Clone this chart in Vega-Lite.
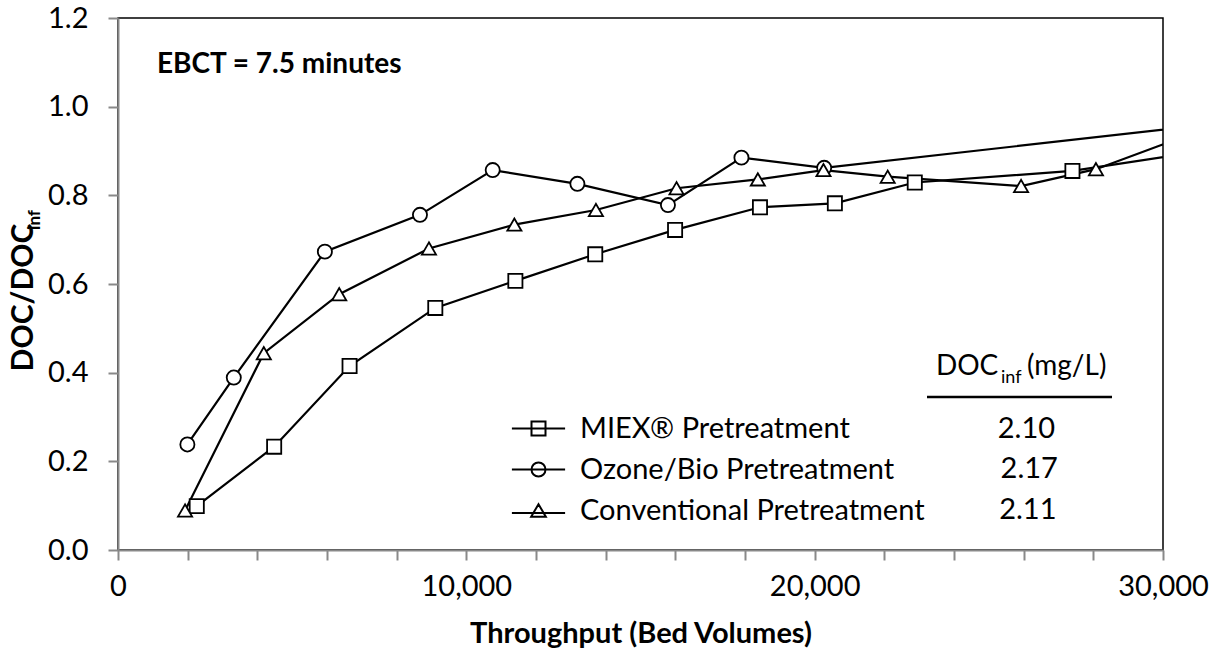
{
  "$schema": "https://vega.github.io/schema/vega-lite/v6.json",
  "autosize": {"type": "none"},
  "padding": {"left": 118, "top": 18, "right": 54, "bottom": 107},
  "width": 1045,
  "height": 532,
  "background": "white",
  "datasets": {
    "curves": [
      {"series": "MIEX® Pretreatment", "bv": 2261, "ratio": 0.099},
      {"series": "MIEX® Pretreatment", "bv": 4483, "ratio": 0.233},
      {"series": "MIEX® Pretreatment", "bv": 6648, "ratio": 0.415},
      {"series": "MIEX® Pretreatment", "bv": 9109, "ratio": 0.546},
      {"series": "MIEX® Pretreatment", "bv": 11408, "ratio": 0.607},
      {"series": "MIEX® Pretreatment", "bv": 13700, "ratio": 0.667},
      {"series": "MIEX® Pretreatment", "bv": 15993, "ratio": 0.722},
      {"series": "MIEX® Pretreatment", "bv": 18430, "ratio": 0.773},
      {"series": "MIEX® Pretreatment", "bv": 20580, "ratio": 0.782},
      {"series": "MIEX® Pretreatment", "bv": 22874, "ratio": 0.829},
      {"series": "MIEX® Pretreatment", "bv": 27400, "ratio": 0.855},
      {"series": "MIEX® Pretreatment", "bv": 31000, "ratio": 0.898},
      {"series": "Ozone/Bio Pretreatment", "bv": 1992, "ratio": 0.238},
      {"series": "Ozone/Bio Pretreatment", "bv": 3324, "ratio": 0.389},
      {"series": "Ozone/Bio Pretreatment", "bv": 5939, "ratio": 0.673},
      {"series": "Ozone/Bio Pretreatment", "bv": 8669, "ratio": 0.756},
      {"series": "Ozone/Bio Pretreatment", "bv": 10757, "ratio": 0.857},
      {"series": "Ozone/Bio Pretreatment", "bv": 13188, "ratio": 0.826},
      {"series": "Ozone/Bio Pretreatment", "bv": 15788, "ratio": 0.778},
      {"series": "Ozone/Bio Pretreatment", "bv": 17898, "ratio": 0.885},
      {"series": "Ozone/Bio Pretreatment", "bv": 20273, "ratio": 0.862},
      {"series": "Ozone/Bio Pretreatment", "bv": 31000, "ratio": 0.957},
      {"series": "Conventional Pretreatment", "bv": 1925, "ratio": 0.089},
      {"series": "Conventional Pretreatment", "bv": 4186, "ratio": 0.444},
      {"series": "Conventional Pretreatment", "bv": 6351, "ratio": 0.577},
      {"series": "Conventional Pretreatment", "bv": 8927, "ratio": 0.680},
      {"series": "Conventional Pretreatment", "bv": 11379, "ratio": 0.734},
      {"series": "Conventional Pretreatment", "bv": 13720, "ratio": 0.767},
      {"series": "Conventional Pretreatment", "bv": 16034, "ratio": 0.816},
      {"series": "Conventional Pretreatment", "bv": 18369, "ratio": 0.836},
      {"series": "Conventional Pretreatment", "bv": 20253, "ratio": 0.857},
      {"series": "Conventional Pretreatment", "bv": 22096, "ratio": 0.842},
      {"series": "Conventional Pretreatment", "bv": 25925, "ratio": 0.821},
      {"series": "Conventional Pretreatment", "bv": 28075, "ratio": 0.859},
      {"series": "Conventional Pretreatment", "bv": 31000, "ratio": 0.944}
    ],
    "one": [{}]
  },
  "resolve": {"scale": {"shape": "independent"}, "legend": {"shape": "independent"}},
  "layer": [
    {
      "data": {"name": "curves"},
      "mark": {"type": "line", "clip": true, "color": "black", "strokeWidth": 2.2},
      "encoding": {
        "x": {"field": "bv", "type": "quantitative", "scale": {"domain": [0, 30000], "nice": false, "zero": false},
          "axis": {"title": "Throughput (Bed Volumes)", "values": [0, 1000, 2000, 3000, 4000, 5000, 6000, 7000, 8000, 9000, 10000, 11000, 12000, 13000, 14000, 15000, 16000, 17000, 18000, 19000, 20000, 21000, 22000, 23000, 24000, 25000, 26000, 27000, 28000, 29000, 30000], "labelExpr": "datum.value % 5000 === 0 ? format(datum.value, ',') : ''", "labelFlush": false, "labelOverlap": false, "labelPadding": 12, "titlePadding": 18, "encode": {"ticks": {"update": {"y": {"signal": "datum.value % 5000 === 0 ? -10 : -8"}, "y2": {"signal": "datum.value % 5000 === 0 ? 10 : 0"}}}}}},
        "y": {"field": "ratio", "type": "quantitative", "scale": {"domain": [0, 1.2], "nice": false, "zero": false},
          "axis": {"title": "DOC/DOC", "values": [0, 0.1, 0.2, 0.3, 0.4, 0.5, 0.6, 0.7, 0.8, 0.9, 1.0, 1.1, 1.2], "labelExpr": "round(datum.value * 10) % 2 === 0 ? format(datum.value, '.1f') : ''", "labelFlush": false, "labelOverlap": false, "labelPadding": 20, "titleAngle": 270, "titleAlign": "center", "titleBaseline": "middle", "titleFontSize": 30, "titleX": -95, "titleY": 279, "encode": {"ticks": {"update": {"x": {"signal": "round(datum.value * 10) % 2 === 0 ? 10 : 8"}, "x2": {"signal": "round(datum.value * 10) % 2 === 0 ? -10 : 0"}}}}}},
        "detail": {"field": "series"}
      }
    },
    {
      "data": {"name": "curves"},
      "mark": {"type": "point", "clip": true, "filled": true, "fill": "white", "stroke": "black", "strokeWidth": 1.8, "opacity": 1, "size": 200},
      "encoding": {
        "x": {"field": "bv", "type": "quantitative", "scale": {"domain": [0, 30000], "nice": false, "zero": false},
          "axis": {"title": "Throughput (Bed Volumes)", "values": [0, 1000, 2000, 3000, 4000, 5000, 6000, 7000, 8000, 9000, 10000, 11000, 12000, 13000, 14000, 15000, 16000, 17000, 18000, 19000, 20000, 21000, 22000, 23000, 24000, 25000, 26000, 27000, 28000, 29000, 30000], "labelExpr": "datum.value % 5000 === 0 ? format(datum.value, ',') : ''", "labelFlush": false, "labelOverlap": false, "labelPadding": 12, "titlePadding": 18, "encode": {"ticks": {"update": {"y": {"signal": "datum.value % 5000 === 0 ? -10 : -8"}, "y2": {"signal": "datum.value % 5000 === 0 ? 10 : 0"}}}}}},
        "y": {"field": "ratio", "type": "quantitative", "scale": {"domain": [0, 1.2], "nice": false, "zero": false},
          "axis": {"title": "DOC/DOC", "values": [0, 0.1, 0.2, 0.3, 0.4, 0.5, 0.6, 0.7, 0.8, 0.9, 1.0, 1.1, 1.2], "labelExpr": "round(datum.value * 10) % 2 === 0 ? format(datum.value, '.1f') : ''", "labelFlush": false, "labelOverlap": false, "labelPadding": 20, "titleAngle": 270, "titleAlign": "center", "titleBaseline": "middle", "titleFontSize": 30, "titleX": -95, "titleY": 279, "encode": {"ticks": {"update": {"x": {"signal": "round(datum.value * 10) % 2 === 0 ? 10 : 8"}, "x2": {"signal": "round(datum.value * 10) % 2 === 0 ? -10 : 0"}}}}}},
        "shape": {
          "field": "series",
          "type": "nominal",
          "scale": {"domain": ["MIEX® Pretreatment", "Ozone/Bio Pretreatment", "Conventional Pretreatment"], "range": ["square", "circle", "triangle-up"]},
          "legend": null
        }
      }
    },
    {
      "data": {"name": "curves"},
      "transform": [{"filter": "false"}],
      "mark": {"type": "point", "filled": false, "color": "black", "strokeWidth": 2, "opacity": 1, "size": 196},
      "encoding": {
        "x": {"field": "bv", "type": "quantitative", "scale": {"domain": [0, 30000], "nice": false, "zero": false},
          "axis": {"title": "Throughput (Bed Volumes)", "values": [0, 1000, 2000, 3000, 4000, 5000, 6000, 7000, 8000, 9000, 10000, 11000, 12000, 13000, 14000, 15000, 16000, 17000, 18000, 19000, 20000, 21000, 22000, 23000, 24000, 25000, 26000, 27000, 28000, 29000, 30000], "labelExpr": "datum.value % 5000 === 0 ? format(datum.value, ',') : ''", "labelFlush": false, "labelOverlap": false, "labelPadding": 12, "titlePadding": 18, "encode": {"ticks": {"update": {"y": {"signal": "datum.value % 5000 === 0 ? -10 : -8"}, "y2": {"signal": "datum.value % 5000 === 0 ? 10 : 0"}}}}}},
        "y": {"field": "ratio", "type": "quantitative", "scale": {"domain": [0, 1.2], "nice": false, "zero": false},
          "axis": {"title": "DOC/DOC", "values": [0, 0.1, 0.2, 0.3, 0.4, 0.5, 0.6, 0.7, 0.8, 0.9, 1.0, 1.1, 1.2], "labelExpr": "round(datum.value * 10) % 2 === 0 ? format(datum.value, '.1f') : ''", "labelFlush": false, "labelOverlap": false, "labelPadding": 20, "titleAngle": 270, "titleAlign": "center", "titleBaseline": "middle", "titleFontSize": 30, "titleX": -95, "titleY": 279, "encode": {"ticks": {"update": {"x": {"signal": "round(datum.value * 10) % 2 === 0 ? 10 : 8"}, "x2": {"signal": "round(datum.value * 10) % 2 === 0 ? -10 : 0"}}}}}},
        "shape": {
          "field": "series",
          "type": "nominal",
          "scale": {
            "domain": ["MIEX® Pretreatment", "Ozone/Bio Pretreatment", "Conventional Pretreatment"],
            "range": ["M-3.8,0H3.8M-1,-1H1V1H-1Z", "M-3.8,0H3.8M1,0A1,1,0,1,1,-1,0A1,1,0,1,1,1,0Z", "M-3.8,0.35H3.8M0,-0.9L1.05,0.9H-1.05Z"]
          },
          "legend": {
            "title": null, "orient": "none", "legendX": 406, "legendY": 396, "padding": 0,
            "symbolSize": 196, "symbolStrokeColor": "black", "symbolFillColor": "transparent", "symbolStrokeWidth": 2, "symbolOpacity": 1,
            "labelOffset": 27, "labelLimit": 600, "labelFontSize": 29, "rowPadding": 11
          }
        }
      }
    },
    {
      "data": {"name": "one"},
      "mark": {"type": "text", "align": "left", "baseline": "middle", "fontSize": 28, "fontWeight": "bold", "font": "Lato"},
      "encoding": {
        "x": {"datum": 1120, "scale": {"domain": [0, 30000], "nice": false, "zero": false},
          "axis": {"title": "Throughput (Bed Volumes)", "values": [0, 1000, 2000, 3000, 4000, 5000, 6000, 7000, 8000, 9000, 10000, 11000, 12000, 13000, 14000, 15000, 16000, 17000, 18000, 19000, 20000, 21000, 22000, 23000, 24000, 25000, 26000, 27000, 28000, 29000, 30000], "labelExpr": "datum.value % 5000 === 0 ? format(datum.value, ',') : ''", "labelFlush": false, "labelOverlap": false, "labelPadding": 12, "titlePadding": 18, "encode": {"ticks": {"update": {"y": {"signal": "datum.value % 5000 === 0 ? -10 : -8"}, "y2": {"signal": "datum.value % 5000 === 0 ? 10 : 0"}}}}}},
        "y": {"datum": 1.094, "scale": {"domain": [0, 1.2], "nice": false, "zero": false},
          "axis": {"title": "DOC/DOC", "values": [0, 0.1, 0.2, 0.3, 0.4, 0.5, 0.6, 0.7, 0.8, 0.9, 1.0, 1.1, 1.2], "labelExpr": "round(datum.value * 10) % 2 === 0 ? format(datum.value, '.1f') : ''", "labelFlush": false, "labelOverlap": false, "labelPadding": 20, "titleAngle": 270, "titleAlign": "center", "titleBaseline": "middle", "titleFontSize": 30, "titleX": -95, "titleY": 279, "encode": {"ticks": {"update": {"x": {"signal": "round(datum.value * 10) % 2 === 0 ? 10 : 8"}, "x2": {"signal": "round(datum.value * 10) % 2 === 0 ? -10 : 0"}}}}}},
        "text": {"value": "EBCT = 7.5 minutes"}
      }
    },
    {
      "data": {"name": "one"},
      "mark": {"type": "text", "align": "left", "baseline": "alphabetic", "angle": 270, "dy": -78, "fontSize": 17, "fontWeight": "bold", "font": "Lato"},
      "encoding": {
        "x": {"datum": 0, "scale": {"domain": [0, 30000], "nice": false, "zero": false},
          "axis": {"title": "Throughput (Bed Volumes)", "values": [0, 1000, 2000, 3000, 4000, 5000, 6000, 7000, 8000, 9000, 10000, 11000, 12000, 13000, 14000, 15000, 16000, 17000, 18000, 19000, 20000, 21000, 22000, 23000, 24000, 25000, 26000, 27000, 28000, 29000, 30000], "labelExpr": "datum.value % 5000 === 0 ? format(datum.value, ',') : ''", "labelFlush": false, "labelOverlap": false, "labelPadding": 12, "titlePadding": 18, "encode": {"ticks": {"update": {"y": {"signal": "datum.value % 5000 === 0 ? -10 : -8"}, "y2": {"signal": "datum.value % 5000 === 0 ? 10 : 0"}}}}}},
        "y": {"datum": 0.722, "scale": {"domain": [0, 1.2], "nice": false, "zero": false},
          "axis": {"title": "DOC/DOC", "values": [0, 0.1, 0.2, 0.3, 0.4, 0.5, 0.6, 0.7, 0.8, 0.9, 1.0, 1.1, 1.2], "labelExpr": "round(datum.value * 10) % 2 === 0 ? format(datum.value, '.1f') : ''", "labelFlush": false, "labelOverlap": false, "labelPadding": 20, "titleAngle": 270, "titleAlign": "center", "titleBaseline": "middle", "titleFontSize": 30, "titleX": -95, "titleY": 279, "encode": {"ticks": {"update": {"x": {"signal": "round(datum.value * 10) % 2 === 0 ? 10 : 8"}, "x2": {"signal": "round(datum.value * 10) % 2 === 0 ? -10 : 0"}}}}}},
        "text": {"value": "inf"}
      }
    },
    {
      "data": {"name": "one"},
      "mark": {"type": "text", "align": "left", "baseline": "alphabetic", "fontSize": 28, "font": "Lato"},
      "encoding": {
        "x": {"datum": 23480, "scale": {"domain": [0, 30000], "nice": false, "zero": false},
          "axis": {"title": "Throughput (Bed Volumes)", "values": [0, 1000, 2000, 3000, 4000, 5000, 6000, 7000, 8000, 9000, 10000, 11000, 12000, 13000, 14000, 15000, 16000, 17000, 18000, 19000, 20000, 21000, 22000, 23000, 24000, 25000, 26000, 27000, 28000, 29000, 30000], "labelExpr": "datum.value % 5000 === 0 ? format(datum.value, ',') : ''", "labelFlush": false, "labelOverlap": false, "labelPadding": 12, "titlePadding": 18, "encode": {"ticks": {"update": {"y": {"signal": "datum.value % 5000 === 0 ? -10 : -8"}, "y2": {"signal": "datum.value % 5000 === 0 ? 10 : 0"}}}}}},
        "y": {"datum": 0.395, "scale": {"domain": [0, 1.2], "nice": false, "zero": false},
          "axis": {"title": "DOC/DOC", "values": [0, 0.1, 0.2, 0.3, 0.4, 0.5, 0.6, 0.7, 0.8, 0.9, 1.0, 1.1, 1.2], "labelExpr": "round(datum.value * 10) % 2 === 0 ? format(datum.value, '.1f') : ''", "labelFlush": false, "labelOverlap": false, "labelPadding": 20, "titleAngle": 270, "titleAlign": "center", "titleBaseline": "middle", "titleFontSize": 30, "titleX": -95, "titleY": 279, "encode": {"ticks": {"update": {"x": {"signal": "round(datum.value * 10) % 2 === 0 ? 10 : 8"}, "x2": {"signal": "round(datum.value * 10) % 2 === 0 ? -10 : 0"}}}}}},
        "text": {"value": "DOC"}
      }
    },
    {
      "data": {"name": "one"},
      "mark": {"type": "text", "align": "left", "baseline": "alphabetic", "fontSize": 18, "font": "Lato"},
      "encoding": {
        "x": {"datum": 25349, "scale": {"domain": [0, 30000], "nice": false, "zero": false},
          "axis": {"title": "Throughput (Bed Volumes)", "values": [0, 1000, 2000, 3000, 4000, 5000, 6000, 7000, 8000, 9000, 10000, 11000, 12000, 13000, 14000, 15000, 16000, 17000, 18000, 19000, 20000, 21000, 22000, 23000, 24000, 25000, 26000, 27000, 28000, 29000, 30000], "labelExpr": "datum.value % 5000 === 0 ? format(datum.value, ',') : ''", "labelFlush": false, "labelOverlap": false, "labelPadding": 12, "titlePadding": 18, "encode": {"ticks": {"update": {"y": {"signal": "datum.value % 5000 === 0 ? -10 : -8"}, "y2": {"signal": "datum.value % 5000 === 0 ? 10 : 0"}}}}}},
        "y": {"datum": 0.377, "scale": {"domain": [0, 1.2], "nice": false, "zero": false},
          "axis": {"title": "DOC/DOC", "values": [0, 0.1, 0.2, 0.3, 0.4, 0.5, 0.6, 0.7, 0.8, 0.9, 1.0, 1.1, 1.2], "labelExpr": "round(datum.value * 10) % 2 === 0 ? format(datum.value, '.1f') : ''", "labelFlush": false, "labelOverlap": false, "labelPadding": 20, "titleAngle": 270, "titleAlign": "center", "titleBaseline": "middle", "titleFontSize": 30, "titleX": -95, "titleY": 279, "encode": {"ticks": {"update": {"x": {"signal": "round(datum.value * 10) % 2 === 0 ? 10 : 8"}, "x2": {"signal": "round(datum.value * 10) % 2 === 0 ? -10 : 0"}}}}}},
        "text": {"value": "inf"}
      }
    },
    {
      "data": {"name": "one"},
      "mark": {"type": "text", "align": "left", "baseline": "alphabetic", "fontSize": 28, "font": "Lato"},
      "encoding": {
        "x": {"datum": 26096, "scale": {"domain": [0, 30000], "nice": false, "zero": false},
          "axis": {"title": "Throughput (Bed Volumes)", "values": [0, 1000, 2000, 3000, 4000, 5000, 6000, 7000, 8000, 9000, 10000, 11000, 12000, 13000, 14000, 15000, 16000, 17000, 18000, 19000, 20000, 21000, 22000, 23000, 24000, 25000, 26000, 27000, 28000, 29000, 30000], "labelExpr": "datum.value % 5000 === 0 ? format(datum.value, ',') : ''", "labelFlush": false, "labelOverlap": false, "labelPadding": 12, "titlePadding": 18, "encode": {"ticks": {"update": {"y": {"signal": "datum.value % 5000 === 0 ? -10 : -8"}, "y2": {"signal": "datum.value % 5000 === 0 ? 10 : 0"}}}}}},
        "y": {"datum": 0.395, "scale": {"domain": [0, 1.2], "nice": false, "zero": false},
          "axis": {"title": "DOC/DOC", "values": [0, 0.1, 0.2, 0.3, 0.4, 0.5, 0.6, 0.7, 0.8, 0.9, 1.0, 1.1, 1.2], "labelExpr": "round(datum.value * 10) % 2 === 0 ? format(datum.value, '.1f') : ''", "labelFlush": false, "labelOverlap": false, "labelPadding": 20, "titleAngle": 270, "titleAlign": "center", "titleBaseline": "middle", "titleFontSize": 30, "titleX": -95, "titleY": 279, "encode": {"ticks": {"update": {"x": {"signal": "round(datum.value * 10) % 2 === 0 ? 10 : 8"}, "x2": {"signal": "round(datum.value * 10) % 2 === 0 ? -10 : 0"}}}}}},
        "text": {"value": "(mg/L)"}
      }
    },
    {
      "data": {"name": "one"},
      "mark": {"type": "rule", "color": "black", "strokeWidth": 2.5},
      "encoding": {
        "x": {"datum": 23225, "scale": {"domain": [0, 30000], "nice": false, "zero": false},
          "axis": {"title": "Throughput (Bed Volumes)", "values": [0, 1000, 2000, 3000, 4000, 5000, 6000, 7000, 8000, 9000, 10000, 11000, 12000, 13000, 14000, 15000, 16000, 17000, 18000, 19000, 20000, 21000, 22000, 23000, 24000, 25000, 26000, 27000, 28000, 29000, 30000], "labelExpr": "datum.value % 5000 === 0 ? format(datum.value, ',') : ''", "labelFlush": false, "labelOverlap": false, "labelPadding": 12, "titlePadding": 18, "encode": {"ticks": {"update": {"y": {"signal": "datum.value % 5000 === 0 ? -10 : -8"}, "y2": {"signal": "datum.value % 5000 === 0 ? 10 : 0"}}}}}},
        "x2": {"datum": 28536},
        "y": {"datum": 0.345, "scale": {"domain": [0, 1.2], "nice": false, "zero": false},
          "axis": {"title": "DOC/DOC", "values": [0, 0.1, 0.2, 0.3, 0.4, 0.5, 0.6, 0.7, 0.8, 0.9, 1.0, 1.1, 1.2], "labelExpr": "round(datum.value * 10) % 2 === 0 ? format(datum.value, '.1f') : ''", "labelFlush": false, "labelOverlap": false, "labelPadding": 20, "titleAngle": 270, "titleAlign": "center", "titleBaseline": "middle", "titleFontSize": 30, "titleX": -95, "titleY": 279, "encode": {"ticks": {"update": {"x": {"signal": "round(datum.value * 10) % 2 === 0 ? 10 : 8"}, "x2": {"signal": "round(datum.value * 10) % 2 === 0 ? -10 : 0"}}}}}}
      }
    },
    {
      "data": {"name": "one"},
      "mark": {"type": "text", "align": "center", "baseline": "middle", "fontSize": 29, "font": "Lato"},
      "encoding": {
        "x": {"datum": 26080, "scale": {"domain": [0, 30000], "nice": false, "zero": false},
          "axis": {"title": "Throughput (Bed Volumes)", "values": [0, 1000, 2000, 3000, 4000, 5000, 6000, 7000, 8000, 9000, 10000, 11000, 12000, 13000, 14000, 15000, 16000, 17000, 18000, 19000, 20000, 21000, 22000, 23000, 24000, 25000, 26000, 27000, 28000, 29000, 30000], "labelExpr": "datum.value % 5000 === 0 ? format(datum.value, ',') : ''", "labelFlush": false, "labelOverlap": false, "labelPadding": 12, "titlePadding": 18, "encode": {"ticks": {"update": {"y": {"signal": "datum.value % 5000 === 0 ? -10 : -8"}, "y2": {"signal": "datum.value % 5000 === 0 ? 10 : 0"}}}}}},
        "y": {"datum": 0.273, "scale": {"domain": [0, 1.2], "nice": false, "zero": false},
          "axis": {"title": "DOC/DOC", "values": [0, 0.1, 0.2, 0.3, 0.4, 0.5, 0.6, 0.7, 0.8, 0.9, 1.0, 1.1, 1.2], "labelExpr": "round(datum.value * 10) % 2 === 0 ? format(datum.value, '.1f') : ''", "labelFlush": false, "labelOverlap": false, "labelPadding": 20, "titleAngle": 270, "titleAlign": "center", "titleBaseline": "middle", "titleFontSize": 30, "titleX": -95, "titleY": 279, "encode": {"ticks": {"update": {"x": {"signal": "round(datum.value * 10) % 2 === 0 ? 10 : 8"}, "x2": {"signal": "round(datum.value * 10) % 2 === 0 ? -10 : 0"}}}}}},
        "text": {"value": "2.10"}
      }
    },
    {
      "data": {"name": "one"},
      "mark": {"type": "text", "align": "center", "baseline": "middle", "fontSize": 29, "font": "Lato"},
      "encoding": {
        "x": {"datum": 26160, "scale": {"domain": [0, 30000], "nice": false, "zero": false},
          "axis": {"title": "Throughput (Bed Volumes)", "values": [0, 1000, 2000, 3000, 4000, 5000, 6000, 7000, 8000, 9000, 10000, 11000, 12000, 13000, 14000, 15000, 16000, 17000, 18000, 19000, 20000, 21000, 22000, 23000, 24000, 25000, 26000, 27000, 28000, 29000, 30000], "labelExpr": "datum.value % 5000 === 0 ? format(datum.value, ',') : ''", "labelFlush": false, "labelOverlap": false, "labelPadding": 12, "titlePadding": 18, "encode": {"ticks": {"update": {"y": {"signal": "datum.value % 5000 === 0 ? -10 : -8"}, "y2": {"signal": "datum.value % 5000 === 0 ? 10 : 0"}}}}}},
        "y": {"datum": 0.183, "scale": {"domain": [0, 1.2], "nice": false, "zero": false},
          "axis": {"title": "DOC/DOC", "values": [0, 0.1, 0.2, 0.3, 0.4, 0.5, 0.6, 0.7, 0.8, 0.9, 1.0, 1.1, 1.2], "labelExpr": "round(datum.value * 10) % 2 === 0 ? format(datum.value, '.1f') : ''", "labelFlush": false, "labelOverlap": false, "labelPadding": 20, "titleAngle": 270, "titleAlign": "center", "titleBaseline": "middle", "titleFontSize": 30, "titleX": -95, "titleY": 279, "encode": {"ticks": {"update": {"x": {"signal": "round(datum.value * 10) % 2 === 0 ? 10 : 8"}, "x2": {"signal": "round(datum.value * 10) % 2 === 0 ? -10 : 0"}}}}}},
        "text": {"value": "2.17"}
      }
    },
    {
      "data": {"name": "one"},
      "mark": {"type": "text", "align": "center", "baseline": "middle", "fontSize": 29, "font": "Lato"},
      "encoding": {
        "x": {"datum": 26120, "scale": {"domain": [0, 30000], "nice": false, "zero": false},
          "axis": {"title": "Throughput (Bed Volumes)", "values": [0, 1000, 2000, 3000, 4000, 5000, 6000, 7000, 8000, 9000, 10000, 11000, 12000, 13000, 14000, 15000, 16000, 17000, 18000, 19000, 20000, 21000, 22000, 23000, 24000, 25000, 26000, 27000, 28000, 29000, 30000], "labelExpr": "datum.value % 5000 === 0 ? format(datum.value, ',') : ''", "labelFlush": false, "labelOverlap": false, "labelPadding": 12, "titlePadding": 18, "encode": {"ticks": {"update": {"y": {"signal": "datum.value % 5000 === 0 ? -10 : -8"}, "y2": {"signal": "datum.value % 5000 === 0 ? 10 : 0"}}}}}},
        "y": {"datum": 0.090, "scale": {"domain": [0, 1.2], "nice": false, "zero": false},
          "axis": {"title": "DOC/DOC", "values": [0, 0.1, 0.2, 0.3, 0.4, 0.5, 0.6, 0.7, 0.8, 0.9, 1.0, 1.1, 1.2], "labelExpr": "round(datum.value * 10) % 2 === 0 ? format(datum.value, '.1f') : ''", "labelFlush": false, "labelOverlap": false, "labelPadding": 20, "titleAngle": 270, "titleAlign": "center", "titleBaseline": "middle", "titleFontSize": 30, "titleX": -95, "titleY": 279, "encode": {"ticks": {"update": {"x": {"signal": "round(datum.value * 10) % 2 === 0 ? 10 : 8"}, "x2": {"signal": "round(datum.value * 10) % 2 === 0 ? -10 : 0"}}}}}},
        "text": {"value": "2.11"}
      }
    }
  ],
  "config": {
    "font": "Lato",
    "view": {"stroke": "black", "strokeWidth": 1.5},
    "axis": {
      "grid": false,
      "domainColor": "#898989",
      "domainWidth": 2,
      "tickColor": "#898989",
      "tickWidth": 2,
      "tickSize": 10,
      "labelFont": "Lato",
      "labelFontSize": 29,
      "labelColor": "black",
      "labelOverlap": false,
      "titleFont": "Lato",
      "titleFontSize": 29,
      "titleFontWeight": "bold",
      "titleColor": "black"
    },
    "axisX": {"tickCount": 30},
    "axisY": {"tickCount": 12},
    "legend": {"labelFont": "Lato", "labelColor": "black"}
  }
}
